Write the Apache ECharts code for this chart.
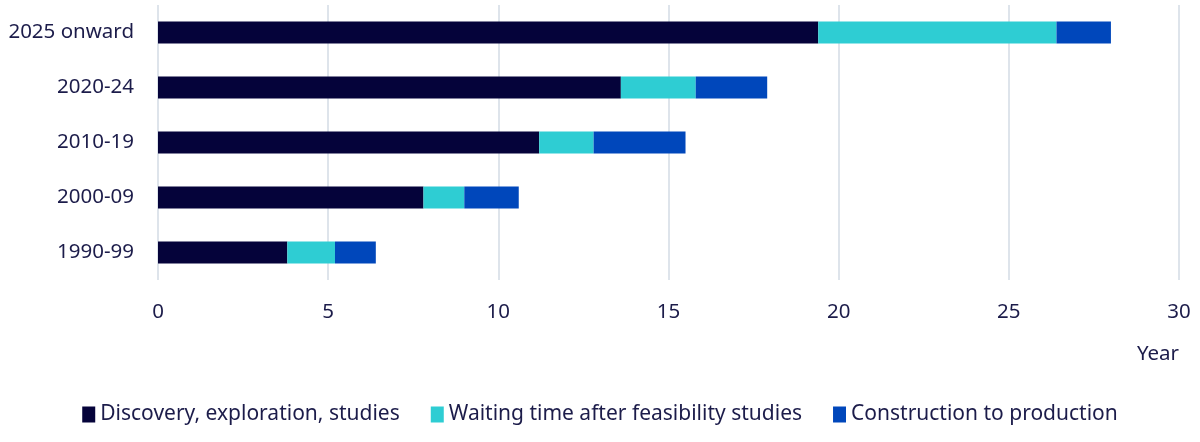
<!DOCTYPE html>
<html>
<head>
    <meta charset="utf-8">
    <title>Lead time by period</title>
    <script src="https://cdn.jsdelivr.net/npm/echarts@6/dist/echarts.min.js"></script>
    <style>
        body { margin: 0; padding: 0; background: #fff; }
        #chart { width: 1200px; height: 442px; }
    </style>
</head>
<body>
    <div id="chart"></div>
    <script>
        var periods = ['1990-99', '2000-09', '2010-19', '2020-24', '2025 onward'];
        var discovery = [3.8, 7.8, 11.2, 13.6, 19.4];
        var waiting = [1.4, 1.2, 1.6, 2.2, 7.0];
        var construction = [1.2, 1.6, 2.7, 2.1, 1.6];
        var seriesNames = ['Discovery, exploration, studies', 'Waiting time after feasibility studies', 'Construction to production'];
        var colors = ['#05033a', '#2ecdd3', '#0047bb'];
        var textColor = '#1c1c4a';
        var fontFamily = '"Source Sans Pro", "Noto Sans", sans-serif';

        var chart = echarts.init(document.getElementById('chart'));

        var values = [discovery, waiting, construction];
        var series = values.map(function (v, i) {
            return {
                name: seriesNames[i],
                type: 'bar',
                stack: 'total',
                barWidth: 22,
                itemStyle: { color: colors[i] },
                data: v
            };
        });

        var option = {
            animation: false,
            textStyle: { fontFamily: fontFamily, color: textColor },
            grid: { left: 158, right: 21, top: 5, bottom: 162 },
            legend: {
                bottom: 12,
                left: 'center',
                itemWidth: 13,
                itemHeight: 16,
                itemGap: 31,
                icon: 'rect',
                textStyle: { fontSize: 21, color: textColor, fontFamily: fontFamily },
                data: seriesNames
            },
            xAxis: {
                type: 'value',
                min: 0,
                max: 30,
                interval: 5,
                name: 'Year',
                nameLocation: 'end',
                nameGap: 0,
                nameTextStyle: {
                    fontSize: 20.5,
                    color: textColor,
                    align: 'right',
                    verticalAlign: 'top',
                    padding: [64, 0, 0, 0]
                },
                axisLine: { show: false },
                axisTick: { show: false },
                axisLabel: { fontSize: 20.5, color: textColor, margin: 22 },
                splitLine: { lineStyle: { color: '#d3dbe5', width: 1.5 } }
            },
            yAxis: {
                type: 'category',
                data: periods,
                axisLine: { show: false },
                axisTick: { show: false },
                axisLabel: { fontSize: 20.5, color: textColor, margin: 24 }
            },
            series: series
        };

        chart.setOption(option);
    </script>
</body>
</html>
